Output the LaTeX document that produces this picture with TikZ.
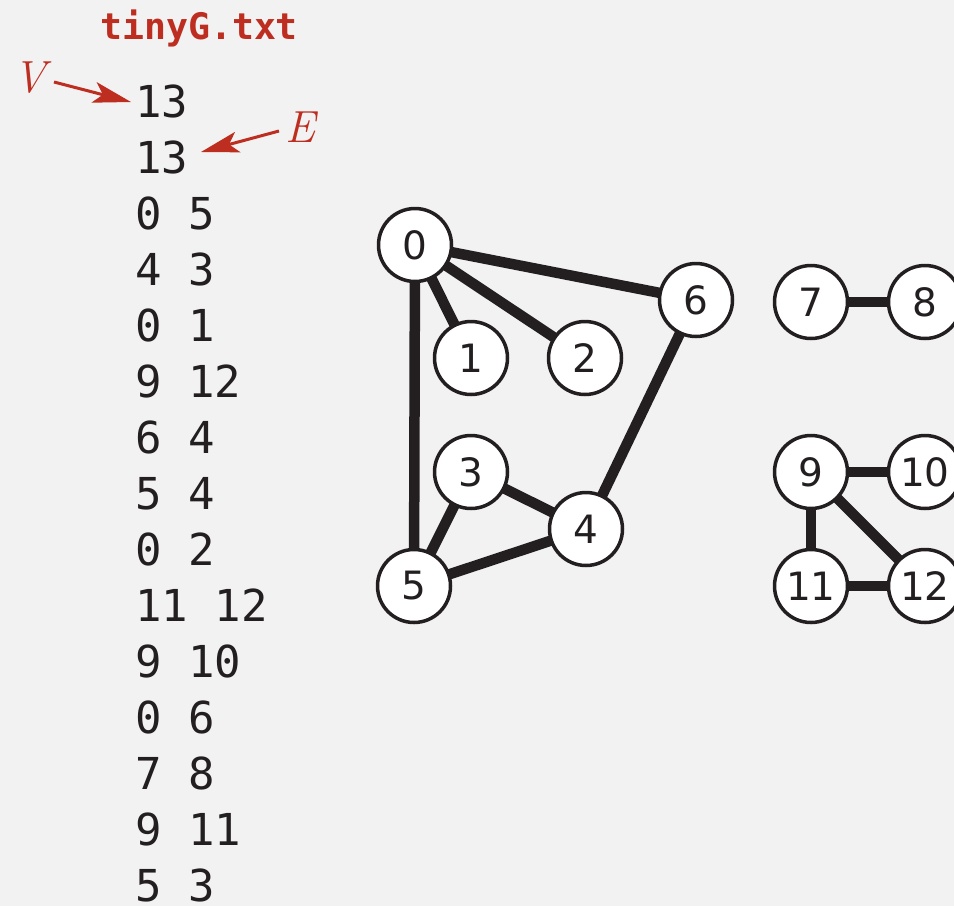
\documentclass[tikz,border=0pt]{standalone}
\usepackage{fontspec}
\setmainfont{DejaVu Sans}
\newfontfamily\listfont{DejaVu Sans Mono}
\usetikzlibrary{arrows.meta,backgrounds}
\pgfdeclarelayer{edgelayer}
\pgfsetlayers{background,edgelayer,main}
\definecolor{bg}{HTML}{F2F2F2}
\definecolor{ink}{HTML}{231F20}
\definecolor{redink}{RGB}{190,46,32}
\tikzset{
  vert/.style={circle, draw=ink, line width=3.5pt, fill=white, minimum size=73pt, inner sep=0pt,
    font=\fontsize{39}{39}\selectfont, text=ink},
  edge/.style={draw=ink, line width=10.5pt},
  listline/.style={anchor=base west, inner sep=0pt, font=\listfont\fontsize{44}{44}\selectfont, text=ink},
  lbl/.style={anchor=base west, inner sep=0pt, text=redink, font=\fontsize{45}{45}\selectfont\rmfamily\itshape},
  redarrow/.style={draw=redink, line width=3pt, -{Stealth[length=38pt,width=21pt,inset=9pt]}}
}
\begin{document}
\begin{tikzpicture}[x=1pt,y=1pt]
\begin{pgfonlayer}{background}
\fill[bg] (0,0) rectangle (954,-906);
\end{pgfonlayer}
\useasboundingbox (0,0) rectangle (954,-906);
% title
\node[anchor=base west, inner sep=0pt, text=redink, font=\listfont\bfseries\fontsize{36.5}{36.5}\selectfont] (title) at (100,-39) {tinyG.txt};
% list
\foreach \t [count=\k from 0] in {13,13,0 5,4 3,0 1,9 12,6 4,5 4,0 2,11 12,9 10,0 6,7 8,9 11,5 3}{
  \node[listline] (l\k) at (135,{-117-56*\k}) {\obeyspaces\t};
}
% V and E
\node[lbl] (V) at (13,-92) {\fontspec{Latin Modern Roman}\itshape V};
\node[lbl] (E) at (285,-142) {\fontspec{Latin Modern Roman}\itshape E};
\coordinate (vt) at (54,-82);
\coordinate (vh) at (131,-102);
\coordinate (et) at (279,-131);
\coordinate (eh) at (201,-152);
\draw[redarrow] (vt) -- (vh);
\draw[redarrow] (et) -- (eh);
% vertices
\node[vert] (n0) at (415,-245) {0};
\node[vert] (n1) at (471,-358) {1};
\node[vert] (n2) at (585,-358) {2};
\node[vert] (n3) at (471,-472) {3};
\node[vert] (n4) at (586,-529) {4};
\node[vert] (n5) at (414,-586) {5};
\node[vert] (n6) at (696,-300) {6};
\node[vert] (n7) at (811,-302) {7};
\node[vert] (n8) at (925,-302) {8};
\node[vert] (n9) at (811,-472) {9};
\node[vert] (n10) at (925,-472) {10};
\node[vert] (n11) at (811,-586) {11};
\node[vert] (n12) at (925,-586) {12};
\begin{pgfonlayer}{edgelayer}
\foreach \a/\b in {0/5,4/3,0/1,9/12,6/4,5/4,0/2,11/12,9/10,0/6,7/8,9/11,5/3}{
  \draw[edge] (n\a.center) -- (n\b.center);
}
\end{pgfonlayer}
\end{tikzpicture}
\end{document}
